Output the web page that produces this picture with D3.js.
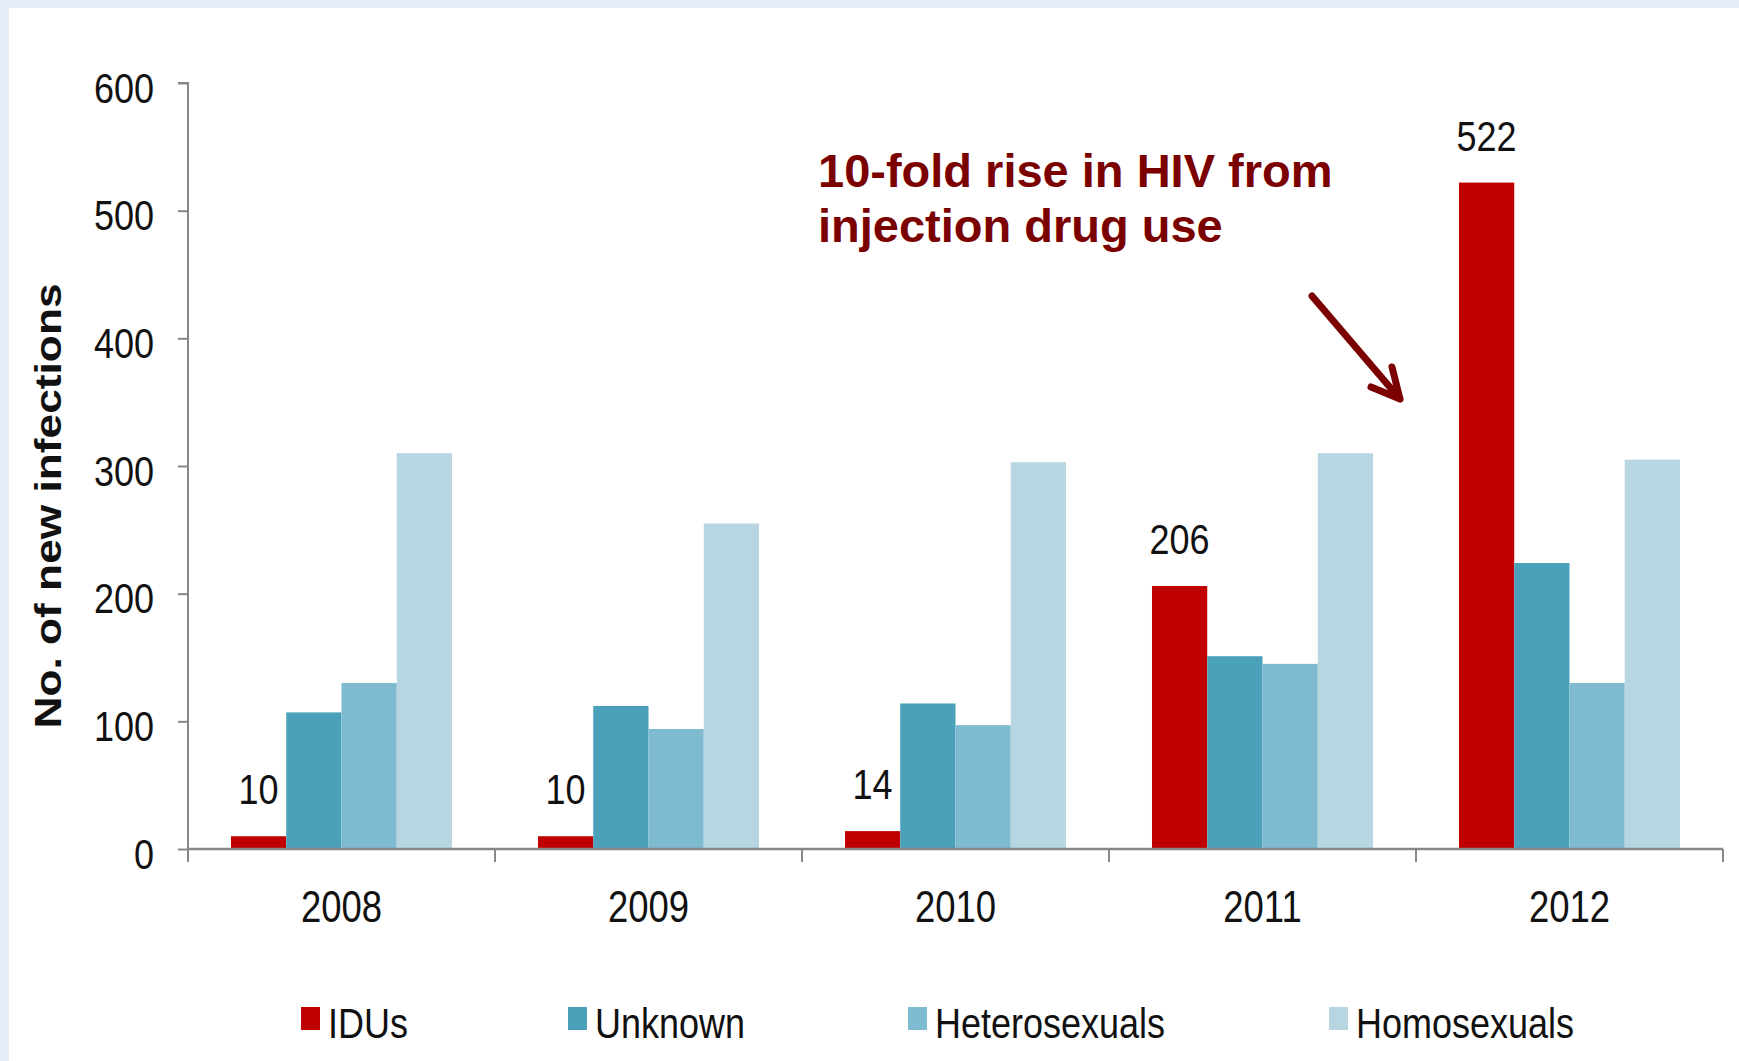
<!DOCTYPE html>
<html>
<head>
<meta charset="utf-8">
<script src="https://cdn.jsdelivr.net/npm/d3@7"></script>
<style>
  body { margin: 0; background: #e4edf6; }
  svg { display: block; }
  text { font-family: "Liberation Sans", Arial, sans-serif; fill: #111; }
</style>
</head>
<body>
<svg id="chart" width="1739" height="1061"></svg>
<script>
// chart values
const years = ["2008", "2009", "2010", "2011", "2012"];
const groups = ["IDUs", "Unknown", "Heterosexuals", "Homosexuals"];
const idus = [10, 10, 14, 206, 522];
const unknown = [107, 112, 114, 151, 224];
const hetero = [130, 94, 97, 145, 130];
const homo = [310, 255, 303, 310, 305];
const colors = ["#c00000", "#4aa1b9", "#7ebbd0", "#b8d6e1"];
const yTicks = [0, 100, 200, 300, 400, 500, 600];
const note = ["10-fold rise in HIV from", "injection drug use"];

const series = [idus, unknown, hetero, homo];
const rows = years.map((yr, i) => ({ year: yr, vals: groups.map((g, j) => ({ key: g, v: series[j][i] })) }));

const svg = d3.select("#chart");
const sy = 1.2; // picture is stretched vertically

svg.append("rect").attr("x", 9).attr("y", 8).attr("width", 1739).attr("height", 1061).attr("fill", "#fff");

const x = d3.scaleBand().domain(years).range([188, 1723]).paddingInner(0.28).paddingOuter(0.14);
const x1 = d3.scaleBand().domain(groups).range([0, x.bandwidth()]);
const y = d3.scaleLinear().domain([0, 600]).range([849, 83]);
const color = d3.scaleOrdinal().domain(groups).range(colors);

// bars
const g = svg.selectAll(".yr").data(rows).enter().append("g")
    .attr("class", "yr")
    .attr("transform", d => `translate(${x(d.year)},0)`);

g.selectAll("rect").data(d => d.vals).enter().append("rect")
    .attr("x", d => x1(d.key))
    .attr("y", d => y(d.v))
    .attr("width", x1.bandwidth())
    .attr("height", d => y(0) - y(d.v))
    .attr("fill", d => color(d.key));

// value labels for IDUs only
svg.selectAll(".lbl").data(rows).enter().append("text")
    .attr("class", "lbl")
    .attr("text-anchor", "middle")
    .attr("font-size", 36)
    .attr("transform", d => `translate(${x(d.year) + x1("IDUs") + x1.bandwidth() / 2},${y(d.vals[0].v) - 32}) scale(1,${sy})`)
    .text(d => d.vals[0].v);

// y axis
const yAxis = svg.append("g")
    .attr("transform", "translate(188,0)")
    .call(d3.axisLeft(y).tickValues(yTicks).tickSize(10).tickPadding(24));
yAxis.selectAll("path, line").attr("stroke", "#878787").attr("stroke-width", 2);
yAxis.select(".domain").attr("d", `M-10,${y(600)}H0V${y(0) + 13}`);
yAxis.selectAll("text")
    .attr("font-size", 36)
    .attr("font-family", "Liberation Sans, Arial, sans-serif")
    .attr("fill", "#111")
    .attr("dy", "0.44em")
    .attr("transform", `scale(1,${sy})`);

// x axis: baseline, boundary ticks, centred labels
const edges = d3.range(years.length + 1).map(i => x.range()[0] + i * x.step());
const xAxis = svg.append("g");
xAxis.append("line")
    .attr("x1", x.range()[0]).attr("x2", x.range()[1])
    .attr("y1", y(0)).attr("y2", y(0))
    .attr("stroke", "#878787").attr("stroke-width", 2.5);
xAxis.selectAll(".tk").data(edges).enter().append("line")
    .attr("x1", d => d).attr("x2", d => d)
    .attr("y1", y(0)).attr("y2", y(0) + 13)
    .attr("stroke", "#878787").attr("stroke-width", 2);
xAxis.selectAll(".xl").data(years).enter().append("text")
    .attr("text-anchor", "middle")
    .attr("font-size", 36.5)
    .attr("transform", d => `translate(${x(d) + x.bandwidth() / 2},922) scale(1,${sy})`)
    .text(d => d);

// y title
svg.append("text")
    .attr("text-anchor", "middle")
    .attr("font-size", 36)
    .attr("font-weight", "bold")
    .attr("transform", `translate(61,506) rotate(-90) scale(1.23,1)`)
    .text("No. of new infections");

// legend
const legX = [301, 568, 908, 1329];
const leg = svg.selectAll(".leg").data(groups).enter().append("g")
    .attr("transform", (d, i) => `translate(${legX[i]},0)`);
leg.append("rect").attr("x", 0).attr("y", 1007).attr("width", 19).attr("height", 23)
    .attr("fill", d => color(d));
leg.append("text")
    .attr("font-size", 36)
    .attr("transform", `translate(27,1038) scale(1,${sy})`)
    .text(d => d);

// annotation
const ann = svg.append("text")
    .attr("font-size", 47)
    .attr("font-weight", "bold")
    .style("fill", "#7b0000");
ann.selectAll("tspan").data(note).enter().append("tspan")
    .attr("x", 818)
    .attr("y", (d, i) => 187 + i * 55)
    .text(d => d);

svg.append("path")
    .attr("d", "M1312,296L1400,399M1392,367L1400,399L1371,387")
    .attr("fill", "none")
    .attr("stroke", "#7b0000")
    .attr("stroke-width", 7)
    .attr("stroke-linecap", "round")
    .attr("stroke-linejoin", "round");
</script>
</body>
</html>
